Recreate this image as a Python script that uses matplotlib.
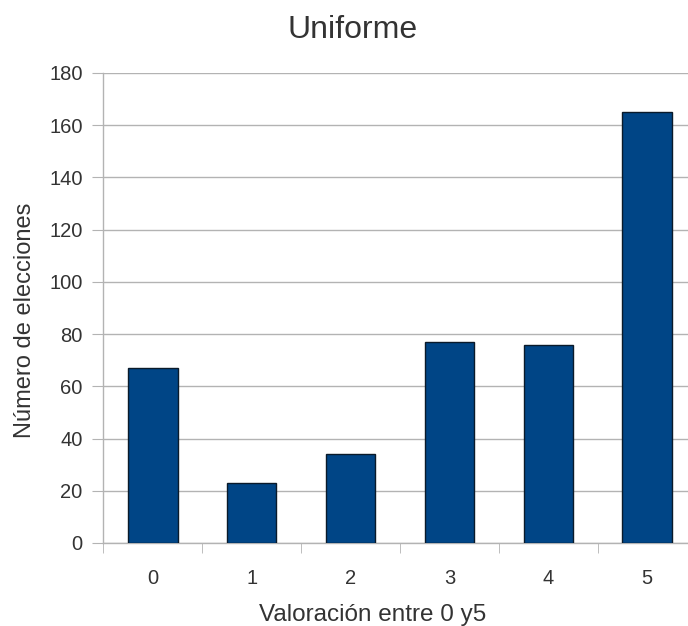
import matplotlib
matplotlib.use('Agg')
import matplotlib.pyplot as plt
from matplotlib.ticker import MultipleLocator, FixedLocator

plt.rcParams['font.family'] = ['Liberation Sans', 'DejaVu Sans']

categorias = ['0', '1', '2', '3', '4', '5']
elecciones = [67, 23, 34, 77, 76, 165]

fig = plt.figure(figsize=(6.88, 6.26), dpi=100)
ax = fig.add_axes([0.1504, 0.1326, 0.862, 0.7508])

x = range(len(categorias))
ax.bar(x, elecciones, width=0.5, color='#004586', edgecolor='#0a1a2a',
       linewidth=1, zorder=3)

ax.set_xlim(-0.5, 5.5)
ax.set_ylim(0, 180)
ax.yaxis.set_major_locator(MultipleLocator(20))
ax.set_xticks(list(x))
ax.set_xticklabels(categorias)
ax.xaxis.set_minor_locator(FixedLocator([i + 0.5 for i in range(-1, 6)]))

ax.yaxis.grid(True, color='#b3b3b3', linewidth=1, zorder=0)
ax.set_axisbelow(True)

for s in ['top', 'right']:
    ax.spines[s].set_visible(False)
for s in ['left', 'bottom']:
    ax.spines[s].set_color('#b3b3b3')
    ax.spines[s].set_linewidth(1)

txt = '#333333'
ax.tick_params(axis='y', which='major', length=8, color='#b3b3b3',
               labelsize=14.5, labelcolor=txt, pad=7)
ax.tick_params(axis='x', which='major', length=0, labelsize=14.5,
               labelcolor=txt, pad=19)
ax.tick_params(axis='x', which='minor', length=7.5, color='#b3b3b3')

# el título y las etiquetas no van centrados en los ejes
ax.set_title('Uniforme', fontsize=23, color=txt, pad=25, x=0.42)
ax.set_xlabel('Valoración entre 0 y5', fontsize=17.5, color=txt)
ax.set_ylabel('Número de elecciones', fontsize=17, color=txt)
ax.xaxis.set_label_coords(0.454, -0.129)
ax.yaxis.set_label_coords(-0.114, 0.474)

fig.savefig('out.png', dpi=100)
